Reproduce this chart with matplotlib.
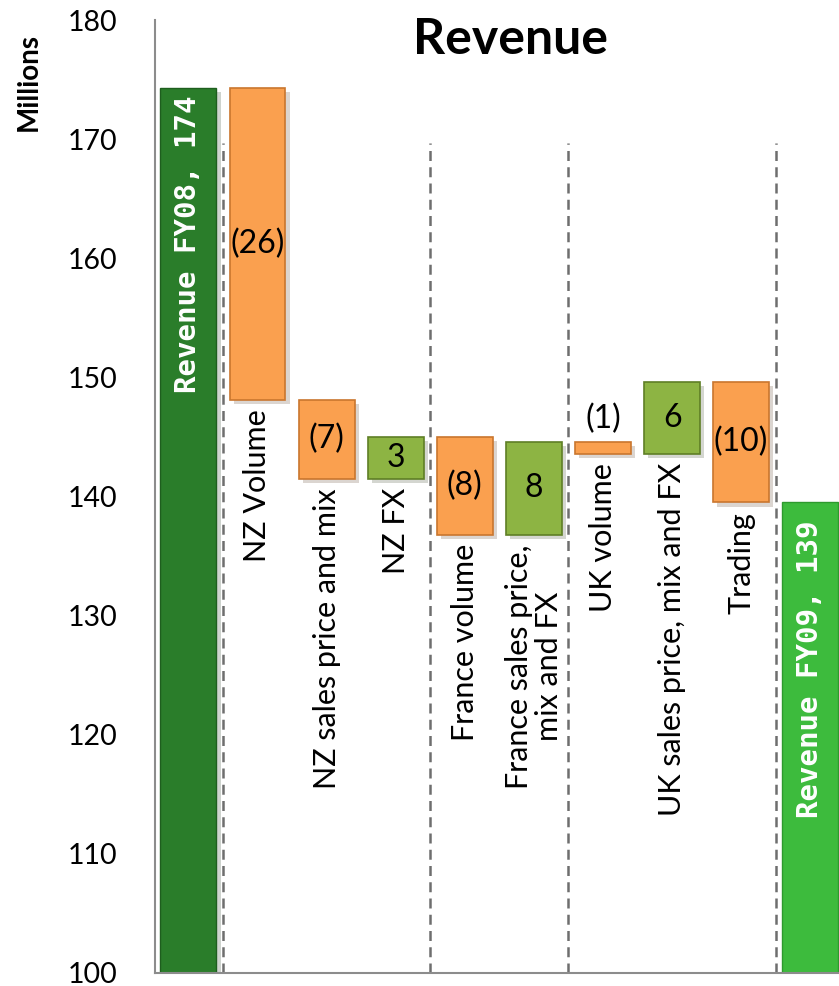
import matplotlib.pyplot as plt
import matplotlib.patheffects as pe

# waterfall values (millions)
start_value = 174.3
end_value = 139.5
categories = ['NZ Volume', 'NZ sales price and mix', 'NZ FX', 'France volume',
              'France sales price,\nmix and FX', 'UK volume',
              'UK sales price, mix and FX', 'Trading']
deltas = [-26.2, -6.6, 3.5, -8.2, 7.8, -1.0, 6.0, -10.1]
delta_labels = ['(26)', '(7)', '3', '(8)', '8', '(1)', '6', '(10)']
start_label = 'Revenue FY08, 174'
end_label = 'Revenue FY09, 139'
yticks = [100, 110, 120, 130, 140, 150, 160, 170, 180]
separators = [0.5, 3.5, 5.5, 8.5]

plt.rcParams['font.family'] = ['Lato', 'DejaVu Sans']

fig = plt.figure(figsize=(8.39, 9.86), dpi=100)
ax = fig.add_axes([0.1847, 0.0132, 0.8148, 0.9665])

shadow = [pe.SimplePatchShadow(offset=(3, -3), alpha=0.2), pe.Normal()]
width = 0.81

# totals
b = ax.bar(0, start_value - 100, bottom=100, width=width, color='#2A7D2A',
           edgecolor='#1E5E1E', linewidth=1)
b[0].set_path_effects(shadow)
b = ax.bar(9, end_value - 100, bottom=100, width=width, color='#3DBB3D',
           edgecolor='#2E9A2E', linewidth=1)
b[0].set_path_effects(shadow)

level = start_value
for i, (d, lab, cat) in enumerate(zip(deltas, delta_labels, categories)):
    x = i + 1
    lo = min(level, level + d)
    hi = max(level, level + d)
    if d < 0:
        fc, ec = '#FAA04F', '#C9762E'
    else:
        fc, ec = '#8DB443', '#5F7F26'
    b = ax.bar(x, hi - lo, bottom=lo, width=width, color=fc, edgecolor=ec,
               linewidth=1.2, zorder=3)
    b[0].set_path_effects(shadow)
    if hi - lo < 2:
        ax.text(x, hi + 0.6, lab, ha='center', va='bottom', fontsize=23, zorder=4)
    else:
        ax.text(x, (lo + hi) / 2, lab, ha='center', va='center', fontsize=23, zorder=4)
    ax.text(x, lo - 0.8, cat, rotation=90, ha='center', va='top', fontsize=22,
            multialignment='center', linespacing=1.1, zorder=4)
    level += d

ax.text(0, start_value - 0.6, start_label, rotation=90, ha='center', va='top',
        color='white', fontsize=21, fontweight='bold', family='DejaVu Sans Mono', zorder=4)
ax.text(9, end_value - 1.5, end_label, rotation=90, ha='center', va='top',
        color='white', fontsize=21, fontweight='bold', family='DejaVu Sans Mono', zorder=4)

for s in separators:
    ax.plot([s, s], [100, 169.7], color='#6E6E6E', linestyle=(0, (4, 2.5)),
            linewidth=1.8, zorder=1)

ax.set_xlim(-0.484, 9.41)
ax.set_ylim(100, 180)
ax.set_yticks(yticks)
ax.set_xticks([])
ax.tick_params(axis='y', length=0, pad=27, labelsize=20.5)
for side in ['top', 'right']:
    ax.spines[side].set_visible(False)
for side in ['left', 'bottom']:
    ax.spines[side].set_color('#8C8C8C')
    ax.spines[side].set_linewidth(1.5)

fig.text(0.608, 0.96, 'Revenue', ha='center', va='center', fontsize=36, fontweight='bold')
fig.text(0.034, 0.917, 'Millions', rotation=90, ha='center', va='center',
         fontsize=20, fontweight='bold')

fig.savefig('out.png', dpi=100)
